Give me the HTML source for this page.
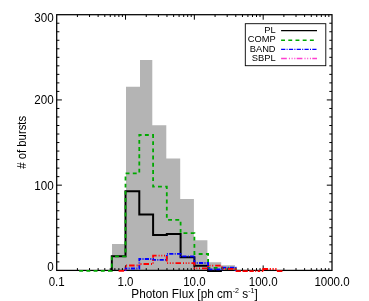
<!DOCTYPE html><html><head><meta charset="utf-8"><style>html,body{margin:0;padding:0;background:#fff;}svg{display:block;opacity:0.999;will-change:transform;}text{font-family:"Liberation Sans",sans-serif;fill:#000;}</style></head><body>
<svg width="369" height="301" viewBox="0 0 369 301">
<rect x="0" y="0" width="369" height="301" fill="#fff"/>
<polygon fill="#b4b4b4" points="112.0,270.4 112.0,244.0 126.0,244.0 126.0,86.8 140.0,86.8 140.0,60.0 152.3,60.0 152.3,125.2 166.3,125.2 166.3,158.6 180.2,158.6 180.2,199.1 193.9,199.1 193.9,240.2 207.4,240.2 207.4,262.3 221.2,262.3 221.2,265.3 235.0,265.3 235.0,270.4"/>
<g stroke="#000" stroke-width="1.25" fill="none">
<rect x="56.7" y="14.7" width="275.3" height="255.7"/>
<path d="M77.42,270.4v-2.3 M77.42,14.7v2.3 M89.54,270.4v-2.3 M89.54,14.7v2.3 M98.14,270.4v-2.3 M98.14,14.7v2.3 M104.81,270.4v-2.3 M104.81,14.7v2.3 M110.26,270.4v-2.3 M110.26,14.7v2.3 M114.86,270.4v-2.3 M114.86,14.7v2.3 M118.86,270.4v-2.3 M118.86,14.7v2.3 M122.38,270.4v-2.3 M122.38,14.7v2.3 M125.53,270.4v-5 M125.53,14.7v5 M146.24,270.4v-2.3 M146.24,14.7v2.3 M158.36,270.4v-2.3 M158.36,14.7v2.3 M166.96,270.4v-2.3 M166.96,14.7v2.3 M173.63,270.4v-2.3 M173.63,14.7v2.3 M179.08,270.4v-2.3 M179.08,14.7v2.3 M183.69,270.4v-2.3 M183.69,14.7v2.3 M187.68,270.4v-2.3 M187.68,14.7v2.3 M191.20,270.4v-2.3 M191.20,14.7v2.3 M194.35,270.4v-5 M194.35,14.7v5 M215.07,270.4v-2.3 M215.07,14.7v2.3 M227.19,270.4v-2.3 M227.19,14.7v2.3 M235.79,270.4v-2.3 M235.79,14.7v2.3 M242.46,270.4v-2.3 M242.46,14.7v2.3 M247.91,270.4v-2.3 M247.91,14.7v2.3 M252.51,270.4v-2.3 M252.51,14.7v2.3 M256.51,270.4v-2.3 M256.51,14.7v2.3 M260.03,270.4v-2.3 M260.03,14.7v2.3 M263.18,270.4v-5 M263.18,14.7v5 M283.89,270.4v-2.3 M283.89,14.7v2.3 M296.01,270.4v-2.3 M296.01,14.7v2.3 M304.61,270.4v-2.3 M304.61,14.7v2.3 M311.28,270.4v-2.3 M311.28,14.7v2.3 M316.73,270.4v-2.3 M316.73,14.7v2.3 M321.34,270.4v-2.3 M321.34,14.7v2.3 M325.33,270.4v-2.3 M325.33,14.7v2.3 M328.85,270.4v-2.3 M328.85,14.7v2.3 M56.7,261.88h2.7 M332.0,261.88h-2.7 M56.7,253.35h2.7 M332.0,253.35h-2.7 M56.7,244.83h2.7 M332.0,244.83h-2.7 M56.7,236.31h2.7 M332.0,236.31h-2.7 M56.7,227.78h2.7 M332.0,227.78h-2.7 M56.7,219.26h2.7 M332.0,219.26h-2.7 M56.7,210.74h2.7 M332.0,210.74h-2.7 M56.7,202.21h2.7 M332.0,202.21h-2.7 M56.7,193.69h2.7 M332.0,193.69h-2.7 M56.7,185.17h5.2 M332.0,185.17h-5.2 M56.7,176.64h2.7 M332.0,176.64h-2.7 M56.7,168.12h2.7 M332.0,168.12h-2.7 M56.7,159.60h2.7 M332.0,159.60h-2.7 M56.7,151.07h2.7 M332.0,151.07h-2.7 M56.7,142.55h2.7 M332.0,142.55h-2.7 M56.7,134.03h2.7 M332.0,134.03h-2.7 M56.7,125.50h2.7 M332.0,125.50h-2.7 M56.7,116.98h2.7 M332.0,116.98h-2.7 M56.7,108.46h2.7 M332.0,108.46h-2.7 M56.7,99.93h5.2 M332.0,99.93h-5.2 M56.7,91.41h2.7 M332.0,91.41h-2.7 M56.7,82.89h2.7 M332.0,82.89h-2.7 M56.7,74.36h2.7 M332.0,74.36h-2.7 M56.7,65.84h2.7 M332.0,65.84h-2.7 M56.7,57.32h2.7 M332.0,57.32h-2.7 M56.7,48.79h2.7 M332.0,48.79h-2.7 M56.7,40.27h2.7 M332.0,40.27h-2.7 M56.7,31.75h2.7 M332.0,31.75h-2.7 M56.7,23.22h2.7 M332.0,23.22h-2.7 " stroke-width="1.0"/>
</g>
<g fill="none" stroke-linejoin="miter" stroke-linecap="butt">
<path d="M111.8,270.9 L111.8,270.9 L111.8,256.3 L125.5,256.3 L125.5,191.2 L139.3,191.2 L139.3,214.4 L153.1,214.4 L153.1,234.9 L166.8,234.9 L166.8,234.1 L180.6,234.1 L180.6,257.2 L194.4,257.2 L194.4,265.8 L208.1,265.8 L208.1,270.9 L221.9,270.9 L221.9,270.9" stroke="#000" stroke-width="2.0"/>
<path d="M77.4,270.9 L111.8,270.9 L111.8,256.3 L125.5,256.3 L125.5,173.3 L139.3,173.3 L139.3,135.0 L153.1,135.0 L153.1,186.7 L166.8,186.7 L166.8,219.8 L180.6,219.8 L180.6,233.2 L194.4,233.2 L194.4,254.0 L208.1,254.0 L208.1,267.8 L221.9,267.8 L221.9,268.4 L235.6,268.4 L235.6,270.9" stroke="#00a800" stroke-width="1.8" stroke-dasharray="3.9 3.3" stroke-dashoffset="-1.8"/>
<path d="M125.5,270.9 L125.5,270.9 L125.5,268.5 L139.3,268.5 L139.3,259.0 L153.1,259.0 L153.1,259.8 L166.8,259.8 L166.8,253.8 L180.6,253.8 L180.6,256.3 L194.4,256.3 L194.4,263.0 L208.1,263.0 L208.1,269.3 L221.9,269.3 L221.9,267.6 L235.6,267.6 L235.6,270.9" stroke="#0000ff" stroke-width="1.8" stroke-dasharray="4.2 1.3 1.0 1.3"/>
<path d="M118.6,270.9 L125.5,270.9 L125.5,265.5 L139.3,265.5 L139.3,264.0 L153.1,264.0 L153.1,255.7 L166.8,255.7 L166.8,263.1 L180.6,263.1 L180.6,263.1 L194.4,263.1 L194.4,268.4 L208.1,268.4 L208.1,265.7 L221.9,265.7 L221.9,268.8 L235.6,268.8 L235.6,270.9" stroke="#ff0000" stroke-width="1.8" stroke-dasharray="5.5 2 1 1.7 1 1.7 1 2"/>
<path d="M235.6,271.1 H263.2" stroke="#ff0000" stroke-width="1.8" stroke-dasharray="5.3 1.6 5.3 1.6 4.4 1.4 1 1.4 2.6 1.6"/>
<path d="M263.2,270.9 V269.0 H276.9 V270.9" stroke="#ff0000" stroke-width="1.8" stroke-dasharray="1.6 0 5.2 1.6 1.2 1.6 1.2 1.6 1.2 2.0"/>
<path d="M276.9,271.1 H282.4" stroke="#ff0000" stroke-width="1.8"/>
</g>
<g font-size="12px">
<text transform="translate(56.7,285.7) scale(0.96,1)" text-anchor="middle">0.1</text>
<text transform="translate(125.5,285.7) scale(0.96,1)" text-anchor="middle">1.0</text>
<text transform="translate(194.4,285.7) scale(0.96,1)" text-anchor="middle">10.0</text>
<text transform="translate(263.2,285.7) scale(0.96,1)" text-anchor="middle">100.0</text>
<text transform="translate(332.0,285.7) scale(0.96,1)" text-anchor="middle">1000.0</text>
<text transform="translate(53.7,22.0) scale(0.97,1)" text-anchor="end">300</text>
<text transform="translate(53.7,104.0) scale(0.97,1)" text-anchor="end">200</text>
<text transform="translate(53.7,189.5) scale(0.97,1)" text-anchor="end">100</text>
<text transform="translate(53.7,271.1) scale(0.97,1)" text-anchor="end">0</text>
<text transform="translate(194.5,298.2) scale(0.982,1)" text-anchor="middle">Photon Flux [ph cm<tspan font-size="7.2px" dy="-5.0">-2</tspan><tspan dy="5.0"> s</tspan><tspan font-size="7.2px" dy="-5.0">-1</tspan><tspan dy="5.0">]</tspan></text>
<text transform="translate(25.6,142.3) rotate(-90) scale(0.945,1)" text-anchor="middle">#&#160;of bursts</text>
</g>
<rect x="245.3" y="23.7" width="80.5" height="42" fill="#fff" stroke="#000" stroke-width="0.9"/>
<g font-size="9.3px" text-anchor="end">
<text x="275.6" y="32.8">PL</text>
<text x="275.6" y="42.4">COMP</text>
<text x="275.6" y="51.6">BAND</text>
<text x="275.6" y="61.0">SBPL</text>
</g>
<g fill="none" stroke-width="1.4">
<path d="M281.1,30.6H317" stroke="#000"/>
<path d="M281.1,40.3H317" stroke="#00a800" stroke-dasharray="3.9 3.3"/>
<path d="M281.1,49.4H317" stroke="#0000ff" stroke-dasharray="4.2 1.3 1.0 1.3"/>
<path d="M281.1,58.5H317" stroke="#ff40d0" stroke-dasharray="5.7 2.1 1 1.7 1 1.7 1 1.4"/>
</g>
</svg></body></html>
